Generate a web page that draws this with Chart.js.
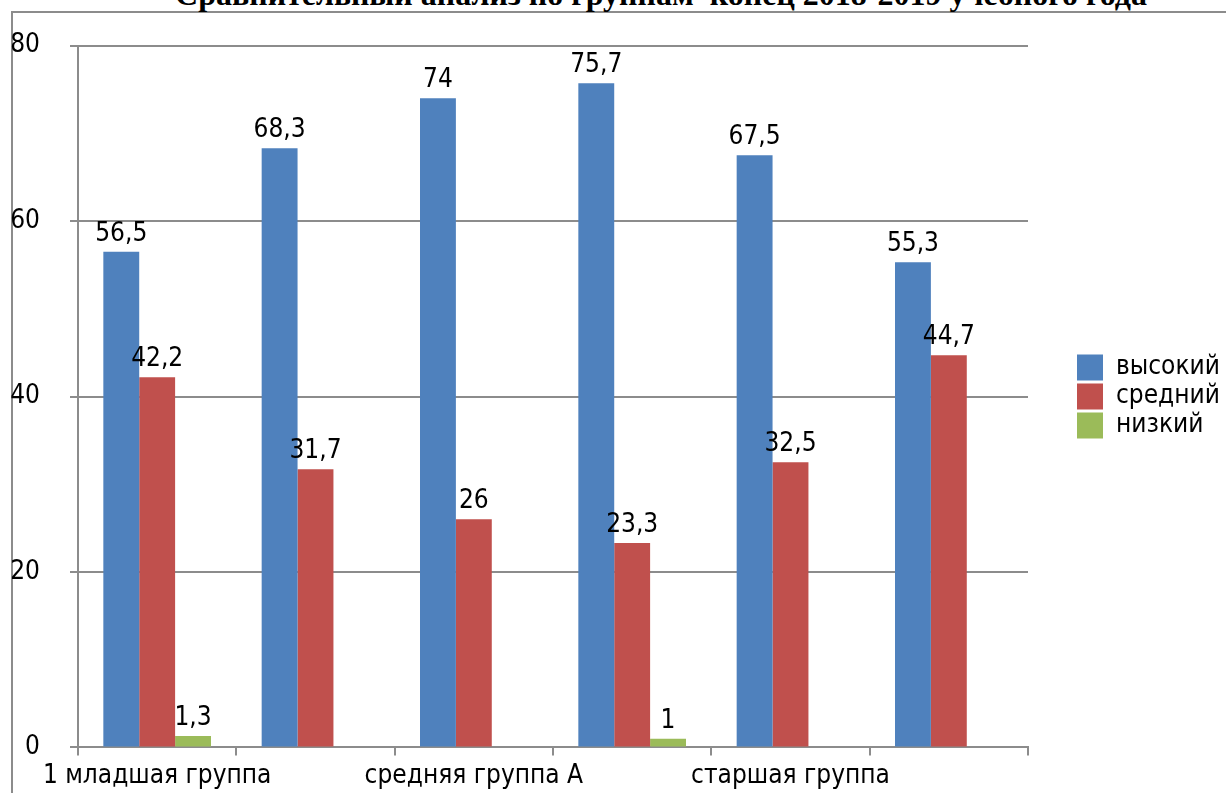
<!DOCTYPE html>
<html>
<head>
<meta charset="utf-8">
<script src="https://cdn.jsdelivr.net/npm/chart.js@4/dist/chart.umd.min.js"></script>
<style>
  html, body { margin: 0; padding: 0; background: #fff; overflow: hidden; }
  #wrap { position: relative; width: 1226px; height: 793px; overflow: hidden; }
  #frame { position: absolute; left: 11px; top: 11px; width: 1300px; height: 900px; border: 2px solid #8c8c8c; }
  #title { position: absolute; left: 0; top: -22px; width: 1322px; text-align: center; white-space: pre;
           font: bold 32px 'Liberation Serif', 'Times New Roman', serif; line-height: 32px; color: #000; }
  #chart { position: absolute; left: 0; top: 0; }
</style>
</head>
<body>
<div id="wrap">
  <div id="frame"></div>
  <div id="title">Сравнительный анализ по группам  конец 2018-2019 учебного года</div>
  <canvas id="chart" width="1226" height="793"></canvas>
</div>
<script>
'use strict';

// данные с рисунка
const categories = ['1 младшая группа', '', 'средняя группа А', '', 'старшая группа', ''];
const seriesNames = ['высокий', 'средний', 'низкий'];
const high = [56.5, 68.3, 74, 75.7, 67.5, 55.3];
const mid = [42.2, 31.7, 26, 23.3, 32.5, 44.7];
const low = [1.3, null, null, 1, null, null];
const yTicks = [0, 20, 40, 60, 80];

const COLORS = ['#4F81BD', '#C0504D', '#9BBB59'];
const FONT = "'DejaVu Sans Condensed', 'DejaVu Sans', Tahoma, sans-serif";
const GRID = '#8c8c8c';

// подписи значений над столбцами (запятая как разделитель)
const valueLabels = {
  id: 'valueLabels',
  afterDatasetsDraw(chart) {
    const ctx = chart.ctx;
    ctx.save();
    ctx.font = '26px ' + FONT;
    ctx.fillStyle = '#000';
    ctx.textAlign = 'center';
    ctx.textBaseline = 'alphabetic';
    chart.data.datasets.forEach((ds, i) => {
      const meta = chart.getDatasetMeta(i);
      meta.data.forEach((el, j) => {
        const v = ds.data[j];
        if (v === null || v === undefined) return;
        ctx.fillText(String(v).replace('.', ','), el.x, el.y - 11);
      });
    });
    ctx.restore();
  }
};

new Chart(document.getElementById('chart'), {
  type: 'bar',
  data: {
    labels: categories,
    datasets: [high, mid, low].map((d, i) => ({
      label: seriesNames[i],
      data: d,
      backgroundColor: COLORS[i],
      borderWidth: 0,
      categoryPercentage: 0.68,
      barPercentage: 1
    }))
  },
  options: {
    responsive: false,
    animation: false,
    layout: { padding: { top: 42, left: 0, right: 0, bottom: 0 } },
    plugins: {
      title: { display: false },
      tooltip: { enabled: false },
      legend: {
        position: 'right',
        fullSize: false,
        maxWidth: 152,
        labels: {
          boxWidth: 26,
          boxHeight: 26,
          padding: 3,
          color: '#000',
          font: { family: FONT, size: 26 }
        }
      }
    },
    scales: {
      x: {
        offset: true,
        grid: { offset: true, drawOnChartArea: false, drawTicks: true, tickLength: 8, color: GRID, lineWidth: 2 },
        border: { display: true, color: GRID, width: 2 },
        ticks: { autoSkip: false, maxRotation: 0, minRotation: 0, padding: 5, color: '#000', font: { family: FONT, size: 26 } },
        afterFit(s) { s.height = 45; }
      },
      y: {
        min: 0,
        max: 80,
        afterBuildTicks(s) { s.ticks = yTicks.map(v => ({ value: v })); },
        grid: { color: GRID, lineWidth: 2, tickLength: 8 },
        border: { display: true, color: GRID, width: 2 },
        ticks: { padding: 30, color: '#000', font: { family: FONT, size: 26 } },
        afterFit(s) { s.width = 78; }
      },
      // пустая ось справа: зазор между графиком и легендой
      y2: {
        position: 'right',
        display: true,
        grid: { display: false },
        border: { display: false },
        ticks: { display: false },
        afterFit(s) { s.width = 46; }
      }
    }
  },
  plugins: [valueLabels]
});
</script>
</body>
</html>
